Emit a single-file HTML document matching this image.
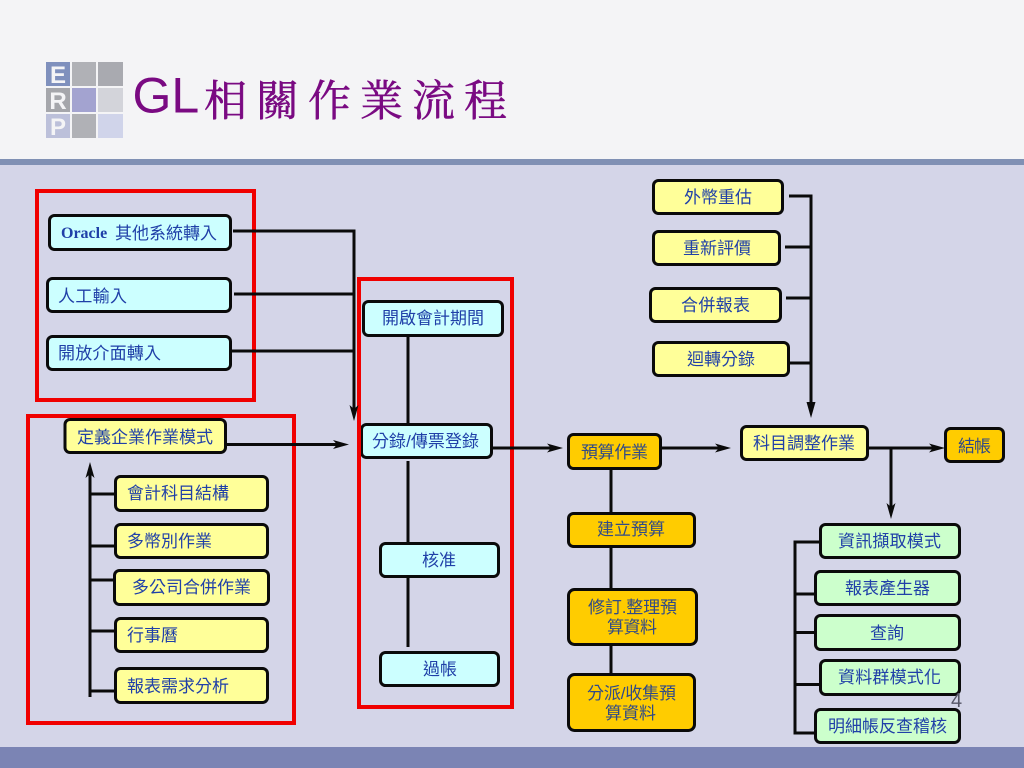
<!DOCTYPE html>
<html><head><meta charset="utf-8"><style>
html,body{margin:0;padding:0;background:#d4d5e8}
svg{display:block}
text{font-family:"Liberation Sans","Noto Sans CJK TC",sans-serif;font-size:17px;fill:#2040a8}
.o text{fill:#304a88}
.b rect{stroke:#0a0a0a;stroke-width:3}
.c rect{fill:#ccffff}.y rect{fill:#ffff99}.o rect{fill:#ffcc00}.g rect{fill:#ccffcc}
.r rect{fill:none;stroke:#f00000;stroke-width:4}
.l path{fill:none;stroke:#0a0a0a;stroke-width:3}
.a polygon{fill:#0a0a0a}
</style></head><body>
<svg xmlns="http://www.w3.org/2000/svg" width="1024" height="768" viewBox="0 0 1024 768">
<rect width="1024" height="159" fill="#f4f4f6"/>
<rect y="159" width="1024" height="6" fill="#8090b4"/>
<rect y="165" width="1024" height="582" fill="#d4d5e8"/>
<rect y="747" width="1024" height="21" fill="#7b84b4"/>

<!-- logo -->
<rect x="46" y="62" width="24" height="24" fill="#7f90bd"/>
<rect x="72" y="62" width="24" height="24" fill="#b0b1b6"/>
<rect x="98" y="62" width="25" height="24" fill="#a9aab0"/>
<rect x="46" y="88" width="24" height="24" fill="#a5a6ab"/>
<rect x="72" y="88" width="24" height="24" fill="#a3a3d0"/>
<rect x="98" y="88" width="25" height="24" fill="#d3d4da"/>
<rect x="46" y="114" width="24" height="24" fill="#bcc0da"/>
<rect x="72" y="114" width="24" height="24" fill="#b0b1b6"/>
<rect x="98" y="114" width="25" height="24" fill="#d0d4ea"/>
<text x="58" y="83" text-anchor="middle" style="font-size:24px;font-weight:bold;fill:#f4f4f6">E</text>
<text x="58" y="109" text-anchor="middle" style="font-size:24px;font-weight:bold;fill:#f4f4f6">R</text>
<text x="58" y="135" text-anchor="middle" style="font-size:24px;font-weight:bold;fill:#f4f4f6">P</text>

<!-- title -->
<text x="132.500" y="112.500" style="font-size:50px;fill:#7a0a82">GL</text>
<text x="204" y="116" textLength="303" lengthAdjust="spacing" style="font-family:'Liberation Serif','Noto Serif CJK SC',serif;font-size:43px;fill:#7a0a82;stroke:#7a0a82;stroke-width:0.5">相關作業流程</text>

<!-- boxes hidden partly by red -->
<g class="b c"><rect x="361.500" y="424.500" width="130" height="33" rx="5"/></g>

<!-- red frames -->
<g class="r">
<rect x="37" y="191" width="217" height="209"/>
<rect x="28" y="416" width="266" height="307"/>
<rect x="359" y="279" width="153" height="428"/>
</g>

<!-- lines -->
<g class="l">
<path d="M233 231H354V412"/>
<path d="M234 294H354"/>
<path d="M228 351H354"/>
<path d="M227 444.500H342"/>
<path d="M90 697V468"/>
<path d="M90 494H114M90 546H114M90 580H113M90 631H114M90 691H114"/>
<path d="M408 337V423M408 461V542M408 578V647"/>
<path d="M493 448H556"/>
<path d="M611 470V512M611 548V588M611 646V673"/>
<path d="M662 448H726"/>
<path d="M789 196H811V412"/>
<path d="M785 247H811M786 298H811M790 363H811"/>
<path d="M869 448H938"/>
<path d="M891 448V513"/>
<path d="M819 542H795V733H814M795 594H814M795 632.500H814M795 684.500H819"/>
</g>
<g class="a">
<polygon points="354,421 349.500,405 354,409 358.500,405"/>
<polygon points="349,444.500 333,440 337,444.500 333,449"/>
<polygon points="90,462 85.500,478 90,474 94.500,478"/>
<polygon points="563,448 547,443.500 551,448 547,452.500"/>
<polygon points="731,448 715,443.500 719,448 715,452.500"/>
<polygon points="811,418 806.500,402 815.500,402"/>
<polygon points="945,448 929,443.500 933,448 929,452.500"/>
<polygon points="891,519 886.500,503 891,507 895.500,503"/>
</g>

<!-- cyan boxes -->
<g class="b c">
<rect x="49.500" y="215.500" width="181" height="34" rx="5"/>
<rect x="47.500" y="278.500" width="183" height="33" rx="5"/>
<rect x="47.500" y="336.500" width="183" height="33" rx="5"/>
<rect x="363.500" y="301.500" width="139" height="34" rx="5"/>
<rect x="380.500" y="543.500" width="118" height="33" rx="5"/>
<rect x="380.500" y="652.500" width="118" height="33" rx="5"/>
</g>
<!-- yellow boxes -->
<g class="b y">
<rect x="65" y="419.500" width="160.500" height="33" rx="5"/>
<rect x="115.500" y="476.500" width="152" height="34" rx="5"/>
<rect x="115.500" y="524.500" width="152" height="33" rx="5"/>
<rect x="114.500" y="570.500" width="154" height="34" rx="5"/>
<rect x="115.500" y="618.500" width="152" height="33" rx="5"/>
<rect x="115.500" y="668.500" width="152" height="34" rx="5"/>
<rect x="653.500" y="180.500" width="129" height="33" rx="5"/>
<rect x="653.500" y="231.500" width="126" height="33" rx="5"/>
<rect x="650.500" y="288.500" width="130" height="33" rx="5"/>
<rect x="653.500" y="342.500" width="135" height="33" rx="5"/>
<rect x="741.500" y="426.500" width="126" height="33" rx="5"/>
</g>
<!-- orange boxes -->
<g class="b o">
<rect x="568.500" y="434.500" width="92" height="34" rx="5"/>
<rect x="568.500" y="513.500" width="126" height="33" rx="5"/>
<rect x="568.500" y="589.500" width="128" height="55" rx="6"/>
<rect x="568.500" y="674.500" width="126" height="56" rx="6"/>
<rect x="945.500" y="428.500" width="58" height="33" rx="5"/>
</g>
<!-- green boxes -->
<g class="b g">
<rect x="820.500" y="524.500" width="139" height="33" rx="5"/>
<rect x="815.500" y="571.500" width="144" height="33" rx="5"/>
<rect x="815.500" y="615.500" width="144" height="34" rx="5"/>
<rect x="820.500" y="660.500" width="139" height="34" rx="5"/>
<rect x="815.500" y="709.500" width="144" height="33" rx="5"/>
</g>

<!-- labels -->
<text x="61" y="238" style="font-family:'Liberation Serif','Noto Sans CJK TC',serif;font-size:16px;font-weight:bold">Oracle</text>
<text x="115" y="239" textLength="102">其他系統轉入</text>
<text x="58" y="302" textLength="69">人工輸入</text>
<text x="58" y="359" textLength="103">開放介面轉入</text>
<text x="77" y="443" textLength="136">定義企業作業模式</text>
<text x="127" y="499" textLength="102">會計科目結構</text>
<text x="127" y="547" textLength="85">多幣別作業</text>
<text x="132" y="593" textLength="119">多公司合併作業</text>
<text x="127" y="641" textLength="51">行事曆</text>
<text x="127" y="692" textLength="102">報表需求分析</text>
<text x="382" y="324" textLength="102">開啟會計期間</text>
<text x="372" y="447" textLength="107">分錄/傳票登錄</text>
<text x="422" y="566" textLength="34">核准</text>
<text x="423" y="675" textLength="34">過帳</text>
<text x="684" y="203" textLength="68">外幣重估</text>
<text x="683" y="254" textLength="68">重新評價</text>
<text x="681" y="311" textLength="69">合併報表</text>
<text x="687" y="365" textLength="68">迴轉分錄</text>
<text x="753" y="449" textLength="102">科目調整作業</text>
<text x="838" y="547" textLength="103">資訊擷取模式</text>
<text x="845" y="594" textLength="85">報表產生器</text>
<text x="870" y="639" textLength="34">查詢</text>
<text x="838" y="683" textLength="103">資料群模式化</text>
<text x="828" y="732" textLength="119">明細帳反查稽核</text>
<g class="o">
<text x="581" y="458" textLength="67">預算作業</text>
<text x="597" y="535" textLength="68">建立預算</text>
<text x="588" y="613" textLength="89">修訂.整理預</text>
<text x="607" y="633" textLength="50">算資料</text>
<text x="587" y="699" textLength="89">分派/收集預</text>
<text x="605" y="719" textLength="51">算資料</text>
<text x="958" y="452" textLength="33">結帳</text>
</g>
<text x="951" y="707" style="font-size:20px;fill:#555566">4</text>
</svg>
</body></html>
